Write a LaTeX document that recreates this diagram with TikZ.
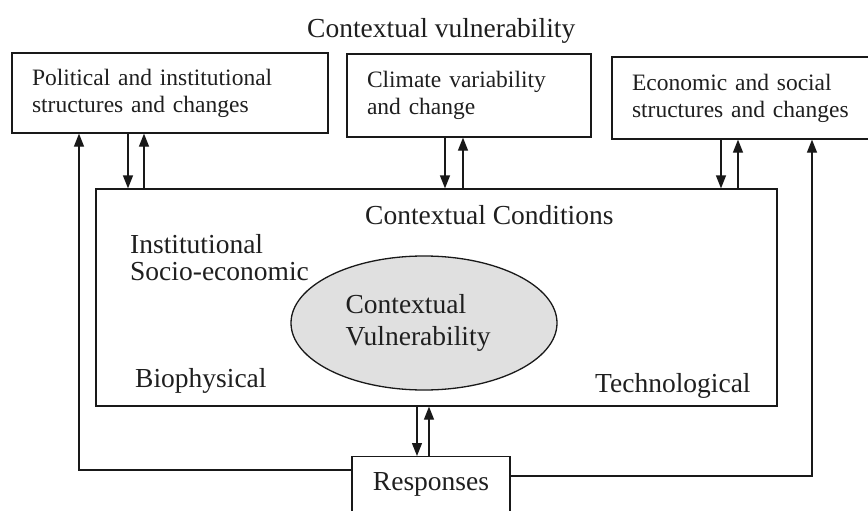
\documentclass[tikz,border=0pt]{standalone}
\usepackage{fontspec}
\setmainfont{Liberation Serif}
\usetikzlibrary{arrows.meta,shapes.geometric}

\tikzset{
  ink/.style={draw=black!90, line width=1.3pt},
  boxlabel/.style={ink, rectangle, align=left, inner xsep=20pt, inner ysep=0pt,
    font=\fontsize{23.5}{27}\selectfont, text=black!88},
  inlabel/.style={inner sep=0pt, font=\fontsize{27.5}{32}\selectfont, text=black!88},
  arr/.style={ink, -{Triangle[length=13pt,width=10pt]}}
}

\begin{document}
\begin{tikzpicture}[x=1pt, y=-1pt]
  \useasboundingbox (0,0) rectangle (868,511);
  \clip (0,0) rectangle (868,511);

  % title
  \node[inlabel, anchor=base west] (title) at (307,38) {Contextual vulnerability};

  % external drivers
  \node[boxlabel, text width=276pt, minimum height=80pt] (pol) at (170,93)
    {Political and institutional\\structures and changes};
  \node[boxlabel, text width=204pt, minimum height=83pt] (clim) at (469,95.5)
    {Climate variability\\and change};
  \node[boxlabel, text width=228pt, minimum height=82pt] (eco) at (746,98)
    {Economic and social\\structures and changes};

  % contextual conditions frame
  \node[ink, rectangle, minimum width=681pt, minimum height=217pt, inner sep=0pt]
    (cond) at (436.5,297.5) {};
  \node[inlabel, anchor=base west] (condt) at (365,224) {Contextual Conditions};
  \node[inlabel, anchor=base west] (inst) at (130,253) {Institutional};
  \node[inlabel, anchor=base west] (socio) at (130,280) {Socio-economic};
  \node[inlabel, anchor=base west] (bio) at (135,387) {Biophysical};
  \node[inlabel, anchor=base west] (tech) at (595,392) {Technological};

  % core ellipse
  \node[ink, ellipse, fill=black!12, minimum width=266pt, minimum height=134pt,
        inner sep=0pt, align=left, font=\fontsize{27.5}{32}\selectfont, text=black!88]
    (vuln) at (424,323) {Contextual\\Vulnerability\hspace*{12pt}};

  % responses
  \node[ink, rectangle, anchor=north, minimum width=158pt, inner xsep=0pt,
        inner ysep=16pt, text height=18pt, text depth=40pt,
        font=\fontsize{27.5}{32}\selectfont, text=black!88]
    (resp) at (431,456) {Responses};

  % two-way links between drivers and conditions
  \coordinate (pd) at (128,0);  \coordinate (pu) at (144,0);
  \coordinate (cd) at (445,0);  \coordinate (cu) at (463,0);
  \coordinate (ed) at (721,0);  \coordinate (eu) at (738,0);
  \coordinate (rd) at (417,0);  \coordinate (ru) at (429,0);
  \draw[arr] (pol.south -| pd) -- (cond.north -| pd);
  \draw[arr] (cond.north -| pu) -- (pol.south -| pu);
  \draw[arr] (clim.south -| cd) -- (cond.north -| cd);
  \draw[arr] (cond.north -| cu) -- (clim.south -| cu);
  \draw[arr] (eco.south -| ed) -- (cond.north -| ed);
  \draw[arr] (cond.north -| eu) -- (eco.south -| eu);
  \draw[arr] (cond.south -| rd) -- (resp.north -| rd);
  \draw[arr] (resp.north -| ru) -- (cond.south -| ru);

  % feedback loops from responses
  \coordinate (lp) at (79,470);
  \coordinate (rp) at (812,476);
  \draw[arr] (resp.west |- lp) -- (lp) -- (pol.south -| lp);
  \draw[arr] (resp.east |- rp) -- (rp) -- (eco.south -| rp);
\end{tikzpicture}
\end{document}
